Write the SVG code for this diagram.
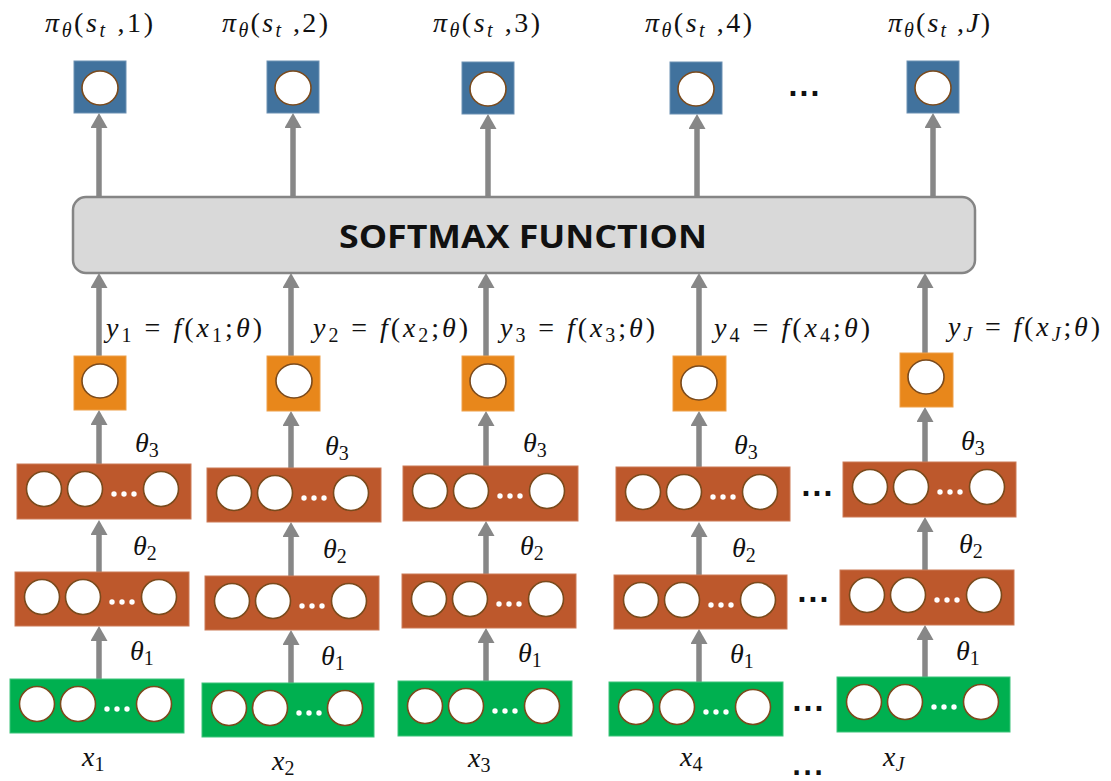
<svg xmlns="http://www.w3.org/2000/svg" width="1111" height="781" viewBox="0 0 1111 781">
<defs>
<style>
.bg{fill:#ffffff}
.blue{fill:#41729d;stroke:#6d91b3;stroke-width:1}
.orange{fill:#e8871b;stroke:#eea04a;stroke-width:1}
.brown{fill:#bd582c;stroke:#cc7a56;stroke-width:1}
.green{fill:#00b050;stroke:#3cc47a;stroke-width:1}
.neuron{fill:#ffffff;stroke:#7a4a1c;stroke-width:1.6}
.wdot{fill:#ffffff}
.soft{fill:#d9d9d9;stroke:#858585;stroke-width:2.5}
.arr{stroke:#878787;stroke-width:5.5;fill:none;marker-end:url(#ah)}
.math{font-family:"Liberation Serif","Times New Roman",serif;font-size:28px;fill:#111}
.i{font-style:italic}
.sub{font-size:20px}
.title{font-family:"Open Sans","Noto Sans",sans-serif;font-weight:bold;font-size:33px;fill:#111}
.ell{font-family:"DejaVu Sans",sans-serif;font-weight:bold;font-size:26px;letter-spacing:1.1px;fill:#111}
</style>
<marker id="ah" viewBox="0 0 15 17" refX="0" refY="8.5" markerWidth="15" markerHeight="17" markerUnits="userSpaceOnUse" orient="auto">
<path d="M0,0 L15,8.5 L0,17 z" fill="#878787"/>
</marker>
</defs>
<rect class="bg" width="1111" height="781"/>

<!-- connectors -->
<g id="connectors">
<line class="arr" x1="99" y1="197" x2="99" y2="128"/>
<line class="arr" x1="293" y1="197" x2="293" y2="128"/>
<line class="arr" x1="488" y1="197" x2="488" y2="129"/>
<line class="arr" x1="697" y1="197" x2="697" y2="129"/>
<line class="arr" x1="933" y1="197" x2="933" y2="128"/>
<line class="arr" x1="99" y1="356" x2="99" y2="288"/>
<line class="arr" x1="291" y1="356" x2="291" y2="288"/>
<line class="arr" x1="486" y1="356" x2="486" y2="288"/>
<line class="arr" x1="699" y1="356" x2="699" y2="288"/>
<line class="arr" x1="925" y1="353" x2="925" y2="288"/>
<line class="arr" x1="99" y1="464" x2="99" y2="425"/>
<line class="arr" x1="291" y1="468" x2="291" y2="426"/>
<line class="arr" x1="486" y1="466" x2="486" y2="426"/>
<line class="arr" x1="699" y1="467" x2="699" y2="426"/>
<line class="arr" x1="925" y1="462" x2="925" y2="422"/>
<line class="arr" x1="99" y1="572" x2="99" y2="535"/>
<line class="arr" x1="291" y1="576" x2="291" y2="537"/>
<line class="arr" x1="486" y1="574" x2="486" y2="536"/>
<line class="arr" x1="699" y1="575" x2="699" y2="537"/>
<line class="arr" x1="925" y1="570" x2="925" y2="532"/>
<line class="arr" x1="99" y1="679" x2="99" y2="641"/>
<line class="arr" x1="291" y1="683" x2="291" y2="645"/>
<line class="arr" x1="486" y1="681" x2="486" y2="643"/>
<line class="arr" x1="699" y1="682" x2="699" y2="644"/>
<line class="arr" x1="925" y1="677" x2="925" y2="640"/>
</g>

<g id="softmax">
<rect class="soft" x="73" y="197" width="902" height="76" rx="13"/>
<text class="title" x="523" y="248" text-anchor="middle" textLength="368" lengthAdjust="spacingAndGlyphs">SOFTMAX FUNCTION</text>
</g>

<!-- output nodes -->
<g id="out1"><rect class="blue" x="74" y="61" width="52" height="52"/><ellipse class="neuron" cx="100" cy="88" rx="18" ry="17"/>
<text class="math" x="45" y="32" textLength="108" lengthAdjust="spacing"><tspan class="i">π</tspan><tspan class="i sub" dy="5">θ</tspan><tspan dy="-5">(</tspan><tspan class="i">s</tspan><tspan class="i sub" dy="5">t</tspan><tspan dy="-5"> ,1)</tspan></text></g>
<g id="out2"><rect class="blue" x="267" y="61" width="52" height="52"/><ellipse class="neuron" cx="293" cy="88" rx="18" ry="17"/>
<text class="math" x="222" y="32" textLength="106" lengthAdjust="spacing"><tspan class="i">π</tspan><tspan class="i sub" dy="5">θ</tspan><tspan dy="-5">(</tspan><tspan class="i">s</tspan><tspan class="i sub" dy="5">t</tspan><tspan dy="-5"> ,2)</tspan></text></g>
<g id="out3"><rect class="blue" x="462" y="62" width="52" height="52"/><ellipse class="neuron" cx="488" cy="89" rx="18" ry="17"/>
<text class="math" x="433" y="32" textLength="107" lengthAdjust="spacing"><tspan class="i">π</tspan><tspan class="i sub" dy="5">θ</tspan><tspan dy="-5">(</tspan><tspan class="i">s</tspan><tspan class="i sub" dy="5">t</tspan><tspan dy="-5"> ,3)</tspan></text></g>
<g id="out4"><rect class="blue" x="670" y="62" width="52" height="52"/><ellipse class="neuron" cx="696" cy="89" rx="18" ry="17"/>
<text class="math" x="645" y="32" textLength="107" lengthAdjust="spacing"><tspan class="i">π</tspan><tspan class="i sub" dy="5">θ</tspan><tspan dy="-5">(</tspan><tspan class="i">s</tspan><tspan class="i sub" dy="5">t</tspan><tspan dy="-5"> ,4)</tspan></text></g>
<g id="outJ"><rect class="blue" x="907" y="61" width="52" height="52"/><ellipse class="neuron" cx="933" cy="88" rx="18" ry="17"/>
<text class="math" x="888" y="32" textLength="102" lengthAdjust="spacing"><tspan class="i">π</tspan><tspan class="i sub" dy="5">θ</tspan><tspan dy="-5">(</tspan><tspan class="i">s</tspan><tspan class="i sub" dy="5">t</tspan><tspan dy="-5"> ,</tspan><tspan class="i">J</tspan><tspan>)</tspan></text></g>
<text class="ell" x="788" y="96">...</text>

<!-- score nodes -->
<g id="score1"><rect class="orange" x="74" y="356" width="52" height="54"/><ellipse class="neuron" cx="100" cy="381" rx="18" ry="17"/>
<text class="math" x="106" y="337" textLength="156" lengthAdjust="spacing"><tspan class="i">y</tspan><tspan class="sub" dy="5">1</tspan><tspan dy="-5"> = </tspan><tspan class="i">f</tspan><tspan>(</tspan><tspan class="i">x</tspan><tspan class="sub" dy="5">1</tspan><tspan dy="-5">;</tspan><tspan class="i">θ</tspan><tspan>)</tspan></text></g>
<g id="score2"><rect class="orange" x="267" y="356" width="53" height="55"/><ellipse class="neuron" cx="294" cy="381" rx="18" ry="17"/>
<text class="math" x="313" y="337" textLength="155" lengthAdjust="spacing"><tspan class="i">y</tspan><tspan class="sub" dy="5">2</tspan><tspan dy="-5"> = </tspan><tspan class="i">f</tspan><tspan>(</tspan><tspan class="i">x</tspan><tspan class="sub" dy="5">2</tspan><tspan dy="-5">;</tspan><tspan class="i">θ</tspan><tspan>)</tspan></text></g>
<g id="score3"><rect class="orange" x="462" y="356" width="52" height="55"/><ellipse class="neuron" cx="488" cy="381" rx="18" ry="17"/>
<text class="math" x="500" y="337" textLength="155" lengthAdjust="spacing"><tspan class="i">y</tspan><tspan class="sub" dy="5">3</tspan><tspan dy="-5"> = </tspan><tspan class="i">f</tspan><tspan>(</tspan><tspan class="i">x</tspan><tspan class="sub" dy="5">3</tspan><tspan dy="-5">;</tspan><tspan class="i">θ</tspan><tspan>)</tspan></text></g>
<g id="score4"><rect class="orange" x="673" y="356" width="53" height="55"/><ellipse class="neuron" cx="699" cy="383" rx="18" ry="17"/>
<text class="math" x="714" y="337" textLength="156" lengthAdjust="spacing"><tspan class="i">y</tspan><tspan class="sub" dy="5">4</tspan><tspan dy="-5"> = </tspan><tspan class="i">f</tspan><tspan>(</tspan><tspan class="i">x</tspan><tspan class="sub" dy="5">4</tspan><tspan dy="-5">;</tspan><tspan class="i">θ</tspan><tspan>)</tspan></text></g>
<g id="scoreJ"><rect class="orange" x="900" y="353" width="53" height="54"/><ellipse class="neuron" cx="926" cy="377" rx="18" ry="17"/>
<text class="math" x="948" y="336" textLength="152" lengthAdjust="spacing"><tspan class="i">y</tspan><tspan class="i sub" dy="5">J</tspan><tspan dy="-5"> = </tspan><tspan class="i">f</tspan><tspan>(</tspan><tspan class="i">x</tspan><tspan class="i sub" dy="5">J</tspan><tspan dy="-5">;</tspan><tspan class="i">θ</tspan><tspan>)</tspan></text></g>

<!-- hidden layer 3 -->
<g id="h3_1" transform="translate(17,464)"><rect class="brown" width="174" height="55"/><circle class="neuron" cx="27" cy="25" r="17.5"/><circle class="neuron" cx="68" cy="25" r="17.5"/><circle class="neuron" cx="144" cy="25" r="17.5"/><circle class="wdot" cx="97" cy="30" r="2.7"/><circle class="wdot" cx="107" cy="30" r="2.7"/><circle class="wdot" cx="117" cy="30" r="2.7"/></g>
<g id="h3_2" transform="translate(207,468)"><rect class="brown" width="174" height="54"/><circle class="neuron" cx="27" cy="25" r="17.5"/><circle class="neuron" cx="68" cy="25" r="17.5"/><circle class="neuron" cx="144" cy="25" r="17.5"/><circle class="wdot" cx="97" cy="30" r="2.7"/><circle class="wdot" cx="107" cy="30" r="2.7"/><circle class="wdot" cx="117" cy="30" r="2.7"/></g>
<g id="h3_3" transform="translate(403,466)"><rect class="brown" width="175" height="55"/><circle class="neuron" cx="27" cy="25" r="17.5"/><circle class="neuron" cx="68" cy="25" r="17.5"/><circle class="neuron" cx="144" cy="25" r="17.5"/><circle class="wdot" cx="97" cy="30" r="2.7"/><circle class="wdot" cx="107" cy="30" r="2.7"/><circle class="wdot" cx="117" cy="30" r="2.7"/></g>
<g id="h3_4" transform="translate(616,467)"><rect class="brown" width="174" height="54"/><circle class="neuron" cx="27" cy="25" r="17.5"/><circle class="neuron" cx="68" cy="25" r="17.5"/><circle class="neuron" cx="144" cy="25" r="17.5"/><circle class="wdot" cx="97" cy="30" r="2.7"/><circle class="wdot" cx="107" cy="30" r="2.7"/><circle class="wdot" cx="117" cy="30" r="2.7"/></g>
<g id="h3_J" transform="translate(843,462)"><rect class="brown" width="173" height="55"/><circle class="neuron" cx="27" cy="25" r="17.5"/><circle class="neuron" cx="68" cy="25" r="17.5"/><circle class="neuron" cx="144" cy="25" r="17.5"/><circle class="wdot" cx="97" cy="30" r="2.7"/><circle class="wdot" cx="107" cy="30" r="2.7"/><circle class="wdot" cx="117" cy="30" r="2.7"/></g>
<text class="ell" x="801" y="496">...</text>

<!-- hidden layer 2 -->
<g id="h2_1" transform="translate(15,572)"><rect class="brown" width="174" height="54"/><circle class="neuron" cx="27" cy="25" r="17.5"/><circle class="neuron" cx="68" cy="25" r="17.5"/><circle class="neuron" cx="144" cy="25" r="17.5"/><circle class="wdot" cx="97" cy="30" r="2.7"/><circle class="wdot" cx="107" cy="30" r="2.7"/><circle class="wdot" cx="117" cy="30" r="2.7"/></g>
<g id="h2_2" transform="translate(205,576)"><rect class="brown" width="174" height="54"/><circle class="neuron" cx="27" cy="25" r="17.5"/><circle class="neuron" cx="68" cy="25" r="17.5"/><circle class="neuron" cx="144" cy="25" r="17.5"/><circle class="wdot" cx="97" cy="30" r="2.7"/><circle class="wdot" cx="107" cy="30" r="2.7"/><circle class="wdot" cx="117" cy="30" r="2.7"/></g>
<g id="h2_3" transform="translate(402,574)"><rect class="brown" width="174" height="54"/><circle class="neuron" cx="27" cy="25" r="17.5"/><circle class="neuron" cx="68" cy="25" r="17.5"/><circle class="neuron" cx="144" cy="25" r="17.5"/><circle class="wdot" cx="97" cy="30" r="2.7"/><circle class="wdot" cx="107" cy="30" r="2.7"/><circle class="wdot" cx="117" cy="30" r="2.7"/></g>
<g id="h2_4" transform="translate(614,575)"><rect class="brown" width="173" height="54"/><circle class="neuron" cx="27" cy="25" r="17.5"/><circle class="neuron" cx="68" cy="25" r="17.5"/><circle class="neuron" cx="144" cy="25" r="17.5"/><circle class="wdot" cx="97" cy="30" r="2.7"/><circle class="wdot" cx="107" cy="30" r="2.7"/><circle class="wdot" cx="117" cy="30" r="2.7"/></g>
<g id="h2_J" transform="translate(840,570)"><rect class="brown" width="174" height="55"/><circle class="neuron" cx="27" cy="25" r="17.5"/><circle class="neuron" cx="68" cy="25" r="17.5"/><circle class="neuron" cx="144" cy="25" r="17.5"/><circle class="wdot" cx="97" cy="30" r="2.7"/><circle class="wdot" cx="107" cy="30" r="2.7"/><circle class="wdot" cx="117" cy="30" r="2.7"/></g>
<text class="ell" x="797" y="602">...</text>

<!-- input layer -->
<g id="in_1" transform="translate(10,679)"><rect class="green" width="174" height="54"/><circle class="neuron" cx="27" cy="25" r="17.5"/><circle class="neuron" cx="68" cy="25" r="17.5"/><circle class="neuron" cx="144" cy="25" r="17.5"/><circle class="wdot" cx="97" cy="30" r="2.7"/><circle class="wdot" cx="107" cy="30" r="2.7"/><circle class="wdot" cx="117" cy="30" r="2.7"/></g>
<g id="in_2" transform="translate(202,683)"><rect class="green" width="172" height="54"/><circle class="neuron" cx="27" cy="25" r="17.5"/><circle class="neuron" cx="68" cy="25" r="17.5"/><circle class="neuron" cx="143" cy="25" r="17.5"/><circle class="wdot" cx="97" cy="30" r="2.7"/><circle class="wdot" cx="107" cy="30" r="2.7"/><circle class="wdot" cx="117" cy="30" r="2.7"/></g>
<g id="in_3" transform="translate(398,681)"><rect class="green" width="174" height="55"/><circle class="neuron" cx="27" cy="25" r="17.5"/><circle class="neuron" cx="68" cy="25" r="17.5"/><circle class="neuron" cx="144" cy="25" r="17.5"/><circle class="wdot" cx="97" cy="30" r="2.7"/><circle class="wdot" cx="107" cy="30" r="2.7"/><circle class="wdot" cx="117" cy="30" r="2.7"/></g>
<g id="in_4" transform="translate(609,682)"><rect class="green" width="174" height="54"/><circle class="neuron" cx="27" cy="25" r="17.5"/><circle class="neuron" cx="68" cy="25" r="17.5"/><circle class="neuron" cx="144" cy="25" r="17.5"/><circle class="wdot" cx="97" cy="30" r="2.7"/><circle class="wdot" cx="107" cy="30" r="2.7"/><circle class="wdot" cx="117" cy="30" r="2.7"/></g>
<g id="in_J" transform="translate(837,677)"><rect class="green" width="173" height="55"/><circle class="neuron" cx="27" cy="25" r="17.5"/><circle class="neuron" cx="68" cy="25" r="17.5"/><circle class="neuron" cx="144" cy="25" r="17.5"/><circle class="wdot" cx="97" cy="30" r="2.7"/><circle class="wdot" cx="107" cy="30" r="2.7"/><circle class="wdot" cx="117" cy="30" r="2.7"/></g>
<text class="ell" x="792" y="711">...</text>
<text class="ell" x="792" y="775" style="font-size:24px;letter-spacing:1.9px">...</text>

<!-- theta labels -->
<g id="thetas">
<text class="math" x="135" y="452"><tspan class="i">θ</tspan><tspan class="sub" dy="5">3</tspan></text>
<text class="math" x="133" y="555"><tspan class="i">θ</tspan><tspan class="sub" dy="5">2</tspan></text>
<text class="math" x="130" y="660"><tspan class="i">θ</tspan><tspan class="sub" dy="5">1</tspan></text>
<text class="math" x="325" y="455"><tspan class="i">θ</tspan><tspan class="sub" dy="5">3</tspan></text>
<text class="math" x="323" y="558"><tspan class="i">θ</tspan><tspan class="sub" dy="5">2</tspan></text>
<text class="math" x="321" y="665"><tspan class="i">θ</tspan><tspan class="sub" dy="5">1</tspan></text>
<text class="math" x="523" y="452"><tspan class="i">θ</tspan><tspan class="sub" dy="5">3</tspan></text>
<text class="math" x="520" y="555"><tspan class="i">θ</tspan><tspan class="sub" dy="5">2</tspan></text>
<text class="math" x="518" y="662"><tspan class="i">θ</tspan><tspan class="sub" dy="5">1</tspan></text>
<text class="math" x="734" y="454"><tspan class="i">θ</tspan><tspan class="sub" dy="5">3</tspan></text>
<text class="math" x="732" y="557"><tspan class="i">θ</tspan><tspan class="sub" dy="5">2</tspan></text>
<text class="math" x="730" y="663"><tspan class="i">θ</tspan><tspan class="sub" dy="5">1</tspan></text>
<text class="math" x="961" y="450"><tspan class="i">θ</tspan><tspan class="sub" dy="5">3</tspan></text>
<text class="math" x="959" y="553"><tspan class="i">θ</tspan><tspan class="sub" dy="5">2</tspan></text>
<text class="math" x="956" y="660"><tspan class="i">θ</tspan><tspan class="sub" dy="5">1</tspan></text>
</g>

<g id="xlabels">
<text class="math" x="82" y="766"><tspan class="i">x</tspan><tspan class="sub" dy="5">1</tspan></text>
<text class="math" x="272" y="770"><tspan class="i">x</tspan><tspan class="sub" dy="5">2</tspan></text>
<text class="math" x="468" y="767"><tspan class="i">x</tspan><tspan class="sub" dy="5">3</tspan></text>
<text class="math" x="680" y="766"><tspan class="i">x</tspan><tspan class="sub" dy="5">4</tspan></text>
<text class="math" x="883" y="766"><tspan class="i">x</tspan><tspan class="i sub" dy="5">J</tspan></text>
</g>
</svg>
